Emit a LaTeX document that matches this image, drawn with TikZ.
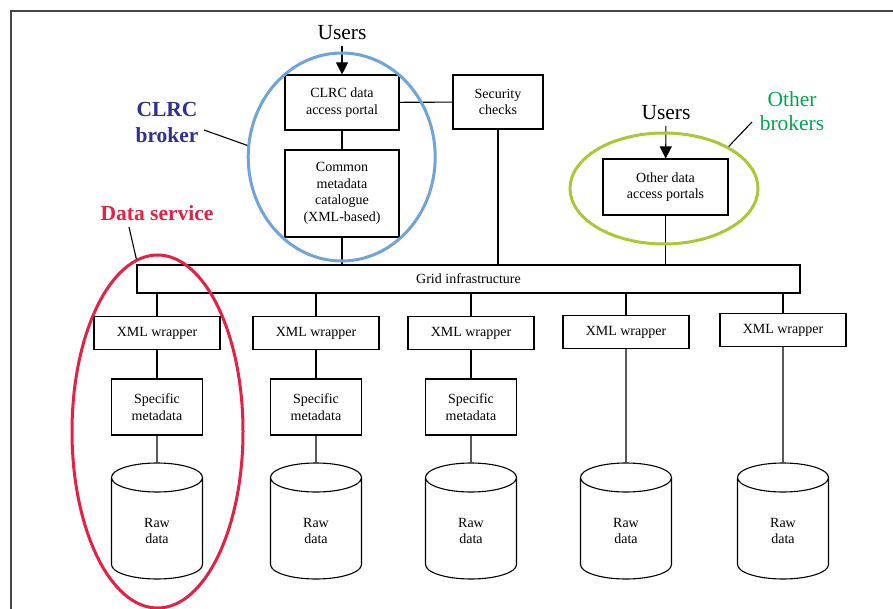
\documentclass[tikz,border=0pt]{standalone}
\usepackage{fontspec}
\setmainfont{Liberation Serif}
\usetikzlibrary{shapes.geometric,arrows.meta}

\definecolor{clrcblue}{RGB}{46,49,146}
\definecolor{ringblue}{RGB}{114,163,214}
\definecolor{servicered}{RGB}{228,32,68}
\definecolor{brokergreen}{RGB}{0,166,81}
\definecolor{ringgreen}{RGB}{171,200,52}
\definecolor{framegray}{RGB}{70,70,70}

\begin{document}
\begin{tikzpicture}[x=1pt,y=-1pt]
    \tikzstyle{every path}=[line width=1.1pt]
    \useasboundingbox (0,0) rectangle (893,609);

    \tikzstyle{box}=[draw,inner sep=0pt,align=center,
                     font=\fontsize{14}{16.6}\selectfont]
    \tikzstyle{wrapbox}=[box,minimum width=126pt,minimum height=33pt]
    \tikzstyle{metabox}=[box,minimum width=91pt,minimum height=56pt]
    \tikzstyle{rawdata}=[draw,cylinder,shape border rotate=90,aspect=1,
                         text width=29pt,minimum width=91pt,minimum height=116pt,
                         inner sep=0pt,anchor=shape center]
    \tikzstyle{rawtext}=[box,draw=none]
    \tikzstyle{ring}=[draw,ellipse,inner sep=0pt,line width=3pt]
    \tikzstyle{tag}=[align=center,inner sep=0pt,
                     font=\fontsize{21.5}{25}\selectfont]
    \tikzstyle{users}=[anchor=south,inner sep=6pt,
                       font=\fontsize{21.5}{25}\selectfont]

    % Draw frame
    \draw[framegray,line width=1.5pt] (11,609) -- (11,11) -- (893,11);

    % Draw CLRC broker
    \node [box,minimum width=114pt,minimum height=55pt] (portal) at (342,102.5)
          {CLRC data\\access portal};
    \node [box,minimum width=114pt,minimum height=87pt] (common) at (342,193.5)
          {Common\\metadata\\catalogue\\(XML-based)};
    \node [box,minimum width=90pt,minimum height=54pt] (security) at (498,102)
          {Security\\checks};
    \node [users] (users) at (342,46) {Users};
    \draw[-{Triangle[length=12pt,width=12pt]}] (users) -- (portal);
    \draw (portal) -- (common);
    \draw (portal) -- (security);

    % Draw other brokers
    \node [box,minimum width=125pt,minimum height=56pt] (other) at (665.5,187)
          {Other data\\access portals};
    \node [users] (otherusers) at (666,126) {Users};
    \draw[-{Triangle[length=12pt,width=12pt]}] (otherusers) -- (other);

    % Draw grid infrastructure
    \node [box,minimum width=663pt,minimum height=28pt] (grid) at (468.5,279)
          {Grid infrastructure};
    \draw (common) -- (common |- grid.north);
    \draw (security) -- (security |- grid.north);
    \draw (other) -- (other |- grid.north);

    % Draw data services
    \path (0,407) coordinate (metarow);
    \foreach \n/\x/\wy in {1/157/333,2/316/333,3/471/333,4/626/332,5/783/330} {
        \node [wrapbox] (wrap\n) at (\x,\wy) {XML wrapper};
        \node [rawdata] (raw\n) at (\x,521) {};
        \node [rawtext] (rawtext\n) at ([yshift=-10pt]raw\n.shape center)
              {Raw\\data};
        \draw (grid.south -| wrap\n.north) -- (wrap\n.north);
    }
    \foreach \n in {1,2,3} {
        \node [metabox] (meta\n) at (wrap\n |- metarow) {Specific\\metadata};
        \draw (wrap\n) -- (meta\n);
        \draw (meta\n) -- (raw\n.north);
    }
    \foreach \n in {4,5}
        \draw (wrap\n) -- (raw\n.north);

    % Draw rings and their tags
    \node [ring,ringblue,minimum width=187pt,minimum height=208pt] (clrcring)
          at (341.7,157) {};
    \node [ring,ringgreen,minimum width=188pt,minimum height=111pt] (otherring)
          at (664,188.5) {};
    \node [ring,servicered,minimum width=171pt,minimum height=353pt] (servicering)
          at (157.5,431.5) {};

    \node [tag,clrcblue,font=\fontsize{21.5}{26}\selectfont\bfseries] (clrctag)
          at (167,122) {CLRC\\broker};
    \node [tag,servicered,font=\fontsize{21.5}{25}\selectfont\bfseries] (servicetag)
          at (157,213) {Data service};
    \node [tag,brokergreen,font=\fontsize{21.5}{24}\selectfont] (othertag)
          at (792,111) {Other\\brokers};
    \coordinate (clrcend) at (204,130);
    \coordinate (serviceend) at (129,227);
    \coordinate (otherend) at (752,122);
    \draw (clrcend) -- (clrcring.173);
    \draw (serviceend) -- (servicering.97);
    \draw (otherend) -- (otherring.33);
\end{tikzpicture}
\end{document}
